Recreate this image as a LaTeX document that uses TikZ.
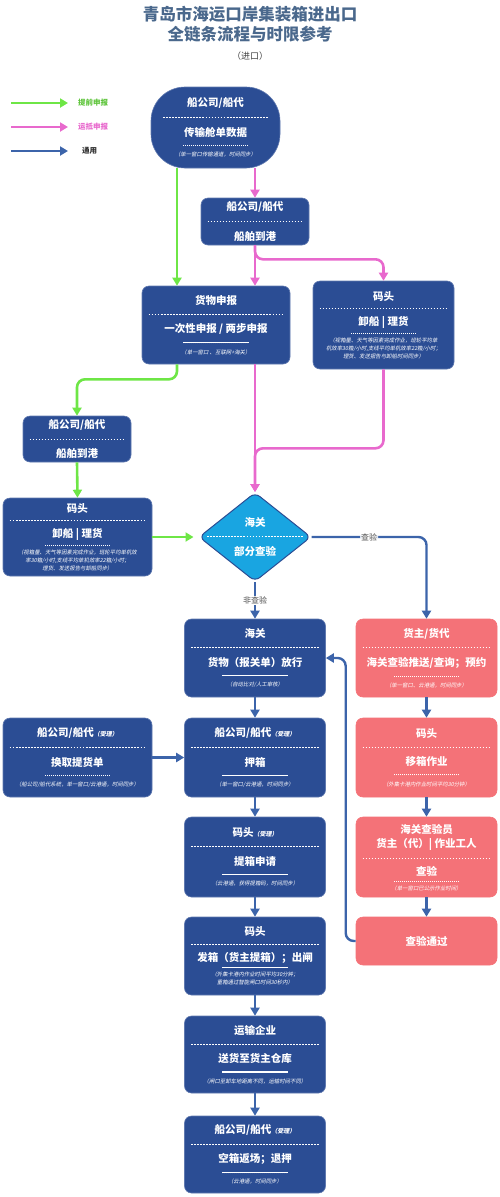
\documentclass[tikz,border=0pt]{standalone}
\usepackage{fontspec}
\setmainfont{Noto Sans CJK SC}
\newfontfamily\notefam{Noto Sans CJK SC}[FakeSlant=0.2]
\usetikzlibrary{arrows.meta,shapes.geometric}

\definecolor{cardblue}{RGB}{43,77,148}
\definecolor{cardpink}{RGB}{244,114,120}
\definecolor{diamblue}{RGB}{25,165,225}
\definecolor{arrgreen}{RGB}{110,230,70}
\definecolor{arrpink}{RGB}{232,105,205}
\definecolor{arrblue}{RGB}{60,100,170}
\definecolor{titlecol}{RGB}{74,104,140}

\newcommand{\headfont}{\fontsize{10.5}{14}\selectfont\bfseries}
\newcommand{\mainfont}{\fontsize{10.5}{13}\selectfont\bfseries}
\newcommand{\notefont}{\notefam\fontsize{5.4}{7.8}\selectfont}
\newcommand{\subnote}[1]{{\notefam\fontsize{6}{7}\selectfont （#1）}}

% white separators inside the cards
\newcommand{\dashsep}{\hbox to\hsize{\xleaders\hbox to 3pt{\hss\vrule width 1.8pt height .8pt\hss}\hfill}}
\newcommand{\dotsep}{\hbox to\hsize{\hss\hbox to 66pt{\xleaders\hbox to 2pt{\hss\vrule width 1.1pt height 1.1pt\hss}\hfill}\hss}}

\newcommand{\cardshort}[3]{%
  \vbox{\hsize=#1\relax\parindent=0pt
    \hbox to\hsize{\hss\headfont #2\hss}\nointerlineskip\kern8.5pt
    \dashsep\nointerlineskip\kern9pt
    \hbox to\hsize{\hss\mainfont #3\hss}}}
\newcommand{\cardfull}[4]{%
  \vbox{\hsize=#1\relax\parindent=0pt
    \hbox to\hsize{\hss\headfont #2\hss}\nointerlineskip\kern8.5pt
    \dashsep\nointerlineskip\kern9pt
    \hbox to\hsize{\hss\mainfont #3\hss}\nointerlineskip\kern7.5pt
    \dotsep\nointerlineskip\kern6pt
    \vbox{\notefont\centering #4\par}}}
\newcommand{\cardtight}[4]{%
  \vbox{\hsize=#1\relax\parindent=0pt
    \hbox to\hsize{\hss\headfont #2\hss}\nointerlineskip\kern7pt
    \dashsep\nointerlineskip\kern7.5pt
    \hbox to\hsize{\hss\mainfont #3\hss}\nointerlineskip\kern4pt
    \dotsep\nointerlineskip\kern4pt
    \vbox{\notefont\centering #4\par}}}

\tikzset{
  card/.style={draw=cardblue!75!white, fill=cardblue, rounded corners=7pt, text=white, inner sep=0pt, line width=0.6pt},
  pinkcard/.style={card, draw=cardpink, fill=cardpink},
  greenarr/.style={draw=arrgreen, line width=2.6pt, -{Triangle[length=8pt,width=9pt]}},
  pinkarr/.style={draw=arrpink, line width=2.6pt, -{Triangle[length=8pt,width=9pt]}},
  bluearr/.style={draw=arrblue, line width=2.4pt, -{Triangle[length=8pt,width=9pt]}},
  legtext/.style={anchor=west, inner sep=0pt, font=\fontsize{7.5}{9}\selectfont\bfseries},
  lbl/.style={fill=white, inner sep=1pt, text=black!70, font=\fontsize{8}{9}\selectfont}
}

\begin{document}
\begin{tikzpicture}[x=1pt, y={(0pt,-1pt)}]
    \useasboundingbox (0,0) rectangle (500,1197);

    % title
    \node[text=titlecol, font=\fontsize{16.5}{18}\selectfont\bfseries] (title1) at (250,14) {青岛市海运口岸集装箱进出口};
    \node[text=titlecol, font=\fontsize{16.5}{18}\selectfont\bfseries] (title2) at (250,34) {全链条流程与时限参考};
    \node[text=black!75, font=\fontsize{9}{10}\selectfont] (subtitle) at (250,56) {（进口）};

    % legend
    \coordinate (lg-g) at (11,103);
    \coordinate (lg-p) at (11,127);
    \coordinate (lg-b) at (11,151);
    \node[legtext, text=arrgreen!85!black] (lgt-g) at (78,103) {提前申报};
    \node[legtext, text=arrpink] (lgt-p) at (78,127) {运抵申报};
    \node[legtext, text=black!80] (lgt-b) at (82,151) {通用};
    \draw[greenarr, shorten >=10pt] (lg-g) -- (lgt-g.west);
    \draw[pinkarr, shorten >=10pt] (lg-p) -- (lgt-p.west);
    \draw[bluearr, shorten >=14pt] (lg-b) -- (lgt-b.west);

    % upper part
    \node[card, rounded corners=34pt, minimum width=129pt, minimum height=81pt] (top) at (215.5,127.5)
        {\cardfull{106pt}{船公司/船代}{传输舱单数据}{（单一窗口传输通道，时间同步）}};
    \node[card, minimum width=108pt, minimum height=47pt] (ship) at (255,221.5)
        {\cardshort{96pt}{船公司/船代}{船舶到港}};
    \node[card, minimum width=148pt, minimum height=78pt] (gd) at (216,325)
        {\cardfull{136pt}{货物申报}{一次性申报 / 两步申报}{（单一窗口 、互联网+海关）}};
    \node[card, minimum width=141pt, minimum height=88pt] (dockr) at (383.5,325)
        {\cardtight{129pt}{码头}{卸船 | 理货}{（视箱量、天气等因素完成作业，班轮平均单\\机效率30箱/小时,支线平均单机效率22箱/小时；\\理货、发送报告与卸船时间同步）}};
    \node[card, minimum width=108pt, minimum height=46pt] (ship2) at (77,439)
        {\cardshort{96pt}{船公司/船代}{船舶到港}};
    \node[card, minimum width=149pt, minimum height=78pt] (dock2) at (77.5,537)
        {\cardtight{137pt}{码头}{卸船 | 理货}{（视箱量、天气等因素完成作业，班轮平均单机效\\率30箱/小时,支线平均单机效率22箱/小时；\\理货、发送报告与卸船同步）}};
    \node[shape=diamond, draw=cardblue, line width=1pt, fill=diamblue, rounded corners=6pt,
          inner sep=0pt, minimum width=112pt, minimum height=89pt] (diam) at (255,537) {};
    \node[text=white, inner sep=0pt] (diam-text) at (diam.center) {\cardshort{97pt}{海关}{部分查验}};

    % main column
    \node[card, minimum width=141pt, minimum height=78pt] (customs) at (255,658)
        {\cardfull{129pt}{海关}{货物（报关单）放行}{（自动比对/人工审核）}};
    \node[card, minimum width=141pt, minimum height=79pt] (deposit) at (255,757.5)
        {\cardfull{129pt}{船公司/船代\subnote{受理}}{押箱}{（单一窗口/云港通，时间同步）}};
    \node[card, minimum width=149pt, minimum height=79pt] (bill) at (77.5,757.5)
        {\cardfull{137pt}{船公司/船代\subnote{受理}}{换取提货单}{（船公司/船代系统，单一窗口/云港通，时间同步）}};
    \node[card, minimum width=141pt, minimum height=80pt] (apply) at (255,857)
        {\cardfull{129pt}{码头\subnote{受理}}{提箱申请}{（云港通，获得提箱码，时间同步）}};
    \node[card, minimum width=141pt, minimum height=78pt] (release) at (255,956)
        {\cardtight{129pt}{码头}{发箱（货主提箱）；出闸}{（外集卡港内作业时间平均30分钟；\\重箱通过智能闸口时间30秒内）}};
    \node[card, minimum width=141pt, minimum height=77pt] (truck) at (255,1054.5)
        {\cardfull{129pt}{运输企业}{送货至货主仓库}{（闸口至卸车地距离不同，运输时间不同）}};
    \node[card, minimum width=141pt, minimum height=77pt] (empty) at (255,1154.5)
        {\cardfull{129pt}{船公司/船代\subnote{受理}}{空箱返场；退押}{（云港通，时间同步）}};

    % inspection column
    \node[pinkcard, minimum width=141pt, minimum height=78pt] (cargo) at (426.5,658)
        {\cardfull{129pt}{货主/货代}{海关查验推送/查询；预约}{（单一窗口、云港通，时间同步）}};
    \node[pinkcard, minimum width=141pt, minimum height=79pt] (move) at (426.5,757.5)
        {\cardfull{129pt}{码头}{移箱作业}{（外集卡港内作业时间平均30分钟）}};
    \node[pinkcard, minimum width=141pt, minimum height=80pt] (insp) at (426.5,857)
        {\cardtight{129pt}{\begin{tabular}{@{}c@{}}海关查验员\\货主（代）| 作业工人\end{tabular}}{查验}{（单一窗口已公示作业时间）}};
    \node[pinkcard, minimum width=141pt, minimum height=48pt] (pass) at (426.5,941)
        {\mainfont 查验通过};

    % green: early declaration
    \draw[greenarr] ([xshift=-38.5pt]top.south) -- ([xshift=-39pt]gd.north);
    \draw[greenarr, rounded corners=8pt] ([xshift=-39pt]gd.south) -- ++(0,15) -| (ship2.north);
    \draw[greenarr] (ship2.south) -- (dock2.north);
    \draw[greenarr, shorten >=5pt] (dock2.east) -- (diam.west);

    % pink: arrival declaration
    \draw[pinkarr] (top.south -| ship.north) -- (ship.north);
    \draw[pinkarr] (ship.south) -- (ship.south |- gd.north);
    \draw[pinkarr, rounded corners=8pt] (ship.south) -- ++(0,14) -| (dockr.north);
    \draw[pinkarr] (gd.south -| diam.north) -- (diam.north);
    \draw[pinkarr, rounded corners=8pt] (dockr.south) -- ++(0,79) -| (diam.north);

    % blue: common
    \draw[bluearr, rounded corners=8pt] (diam.east) -| (cargo.north) node[lbl, pos=0.25] {查验};
    \draw[bluearr] (diam.south) -- (customs.north) node[lbl, midway] {非查验};
    \draw[bluearr] (customs.south) -- (deposit.north);
    \draw[bluearr] (bill.east) -- (deposit.west);
    \draw[bluearr] (deposit.south) -- (apply.north);
    \draw[bluearr] (apply.south) -- (release.north);
    \draw[bluearr] (release.south) -- (truck.north);
    \draw[bluearr] (truck.south) -- (empty.north);
    \draw[bluearr] (cargo.south) -- (move.north);
    \draw[bluearr] (move.south) -- (insp.north);
    \draw[bluearr] (insp.south) -- (pass.north);
    \draw[bluearr, rounded corners=8pt] (pass.west) -- ++(-10,0) |- (customs.east);
\end{tikzpicture}
\end{document}
